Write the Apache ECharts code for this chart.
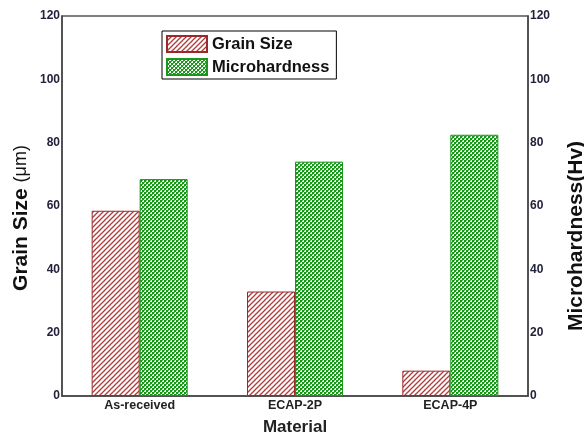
<!DOCTYPE html>
<html><head><meta charset="utf-8">
<script src="https://cdn.jsdelivr.net/npm/echarts@6/dist/echarts.min.js"></script>
<style>html,body{margin:0;padding:0;background:#fff}#c{width:584px;height:434px}</style>
</head><body><div id="c"></div>
<script>
var categories = ['As-received', 'ECAP-2P', 'ECAP-4P'];
var grainSize = [58.5, 33, 8];
var microhardness = [68.5, 74, 82.5];
var yTicks = [0, 20, 40, 60, 80, 100, 120];

function hatch() {
  var c = document.createElement('canvas'); c.width = 5; c.height = 5;
  var g = c.getContext('2d');
  g.fillStyle = '#fff'; g.fillRect(0, 0, 5, 5);
  g.strokeStyle = '#b03a3a'; g.lineWidth = 1.3;
  g.beginPath();
  g.moveTo(-1, 6); g.lineTo(6, -1);
  g.moveTo(-1, 1); g.lineTo(1, -1);
  g.moveTo(4, 6); g.lineTo(6, 4);
  g.stroke();
  return c;
}
function checker() {
  var c = document.createElement('canvas'); c.width = 4; c.height = 4;
  var g = c.getContext('2d');
  g.fillStyle = '#fff'; g.fillRect(0, 0, 4, 4);
  g.fillStyle = '#1a961a';
  g.fillRect(0, 0, 2, 2); g.fillRect(2, 2, 2, 2);
  g.fillStyle = '#5cb85c';
  g.fillRect(2, 0, 1, 1); g.fillRect(0, 2, 1, 1);
  return c;
}

var chart = echarts.init(document.getElementById('c'));
var font = 'Liberation Sans, Arial, sans-serif';
var yAxisBase = {
  type: 'value', min: 0, max: 120, interval: 20,
  splitLine: { show: false },
  axisTick: { show: false },
  axisLine: { show: true, lineStyle: { color: '#444', width: 1.5 } },
  axisLabel: { fontFamily: font, fontWeight: 'bold', fontSize: 12, color: '#22223a', margin: 2,
    formatter: function (v) { return yTicks.indexOf(v) >= 0 ? String(v) : ''; } },
  nameLocation: 'middle',
  nameMoveOverlap: false
};
chart.setOption({
  animation: false,
  backgroundColor: '#fff',
  grid: { left: 62, right: 56, top: 16, bottom: 38, show: true, borderColor: '#555', borderWidth: 1.5,
    containLabel: false, outerBoundsMode: 'none' },
  legend: {
    orient: 'vertical', left: 162, top: 31, itemGap: 5, itemWidth: 40, itemHeight: 16,
    icon: 'rect',
    borderColor: '#000', borderWidth: 1, padding: [4, 7, 3, 4],
    textStyle: { fontFamily: font, fontWeight: 'bold', fontSize: 16.5, color: '#111' },
    data: ['Grain Size', 'Microhardness']
  },
  xAxis: {
    type: 'category', data: categories,
    axisTick: { show: false },
    axisLine: { lineStyle: { color: '#444', width: 1.5 } },
    axisLabel: { fontFamily: font, fontWeight: 'bold', fontSize: 12.5, color: '#222', margin: 3 },
    name: 'Material', nameLocation: 'middle', nameGap: 23,
    nameTextStyle: { fontFamily: font, fontWeight: 'bold', fontSize: 17, color: '#222' }
  },
  yAxis: [
    Object.assign({}, yAxisBase, {
      position: 'left', name: '{a|Grain Size }{b|(μm)}', nameGap: 30, nameRotate: 90,
      nameTextStyle: { padding: [0, 24, 0, 0], rich: {
        a: { fontFamily: font, fontWeight: 'bold', fontSize: 21, color: '#111' },
        b: { fontFamily: font, fontWeight: 'normal', fontSize: 18, color: '#111' } } }
    }),
    Object.assign({}, yAxisBase, {
      position: 'right', name: 'Microhardness(Hv)', nameGap: 38, nameRotate: 90,
      nameTextStyle: { fontFamily: font, fontWeight: 'bold', fontSize: 21, color: '#111', padding: [0, 60, 0, 0] }
    })
  ],
  series: [
    { name: 'Grain Size', type: 'bar', yAxisIndex: 0, data: grainSize, barWidth: 48, barGap: '0%',
      itemStyle: { color: { image: hatch(), repeat: 'repeat' }, borderColor: '#9a2a2a', borderWidth: 1 } },
    { name: 'Microhardness', type: 'bar', yAxisIndex: 1, data: microhardness, barWidth: 48, barGap: '0%',
      itemStyle: { color: { image: checker(), repeat: 'repeat' }, borderColor: '#1a961a', borderWidth: 1 } }
  ]
});
</script></body></html>
